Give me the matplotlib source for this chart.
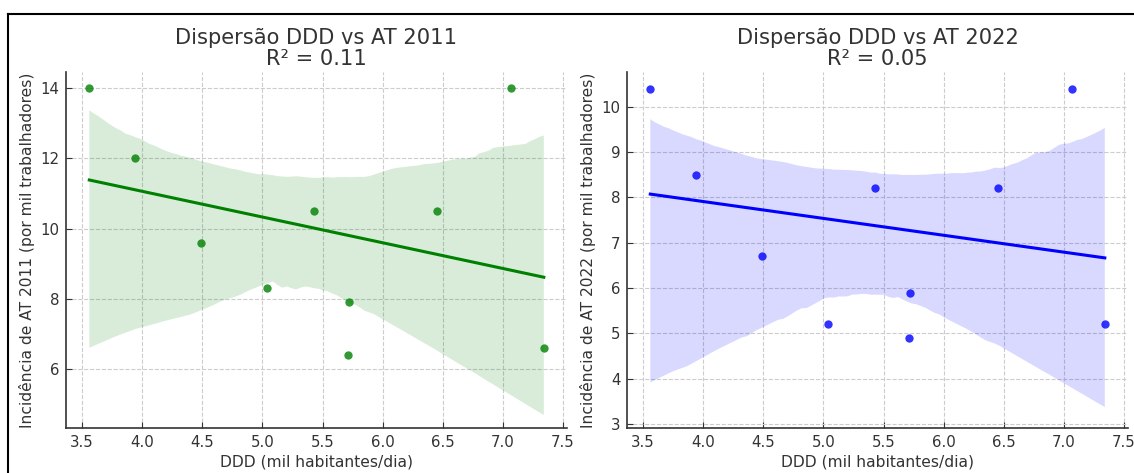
import numpy as np
import matplotlib
matplotlib.use("Agg")
import matplotlib.pyplot as plt
from matplotlib.lines import Line2D
import seaborn as sns

# DDD consumption and work accident incidence per municipality
ddd = [3.56, 3.94, 4.49, 5.04, 5.43, 5.71, 5.72, 6.45, 7.07, 7.34]
at_2011 = [14.0, 12.0, 9.6, 8.3, 10.5, 6.4, 7.9, 10.5, 14.0, 6.6]
at_2022 = [10.4, 8.5, 6.7, 5.2, 8.2, 4.9, 5.9, 8.2, 10.4, 5.2]

# year, values, colour, bootstrap seed, y limits
panels = [
    ("2011", at_2011, "green", 57, (4.32, 14.46)),
    ("2022", at_2022, "blue", 136, (2.91, 10.77)),
]

plt.rcParams.update({
    "font.family": "DejaVu Sans",
    "text.color": "#333333",
    "axes.labelcolor": "#333333",
    "xtick.color": "#333333",
    "ytick.color": "#333333",
})

fig = plt.figure(figsize=(11.34, 4.73), dpi=100)
ax_left = fig.add_axes([0.0586, 0.095, 0.4411, 0.753])
ax_right = fig.add_axes([0.5533, 0.095, 0.4411, 0.753])

for ax, (year, at, col, seed, ylim) in zip([ax_left, ax_right], panels):
    x = np.array(ddd)
    y = np.array(at)
    r2 = np.corrcoef(x, y)[0, 1] ** 2
    sns.regplot(x=x, y=y, ax=ax, color=col, ci=95, seed=seed,
                scatter_kws={"s": 36, "linewidths": 0, "zorder": 3},
                line_kws={"lw": 2.2})
    ax.set_title(f"Dispersão DDD vs AT {year}\nR² = {r2:.2f}",
                 fontsize=15.1, color="#333333", linespacing=1.05, pad=5)
    ax.set_xlabel("DDD (mil habitantes/dia)", fontsize=11.2, labelpad=3)
    ax.set_ylabel(f"Incidência de AT {year} (por mil trabalhadores)", fontsize=11.2)
    ax.set_xticks([3.5, 4.0, 4.5, 5.0, 5.5, 6.0, 6.5, 7.0, 7.5])
    ax.set_xlim(3.37, 7.53)
    ax.set_ylim(*ylim)
    ax.tick_params(direction="in", length=4, labelsize=10.8, pad=5)
    ax.grid(True, linestyle="--", color="#cccccc", linewidth=0.8)
    ax.set_axisbelow(True)
    for side in ["top", "right"]:
        ax.spines[side].set_visible(False)
    for side in ["left", "bottom"]:
        ax.spines[side].set_color("#333333")
        ax.spines[side].set_linewidth(1.2)

# thin frame around the top and left of the figure
fig.add_artist(Line2D([8 / 1134, 1.0], [1 - 14 / 473, 1 - 14 / 473],
                      transform=fig.transFigure, color="black", lw=1.5))
fig.add_artist(Line2D([8 / 1134, 8 / 1134], [0.0, 1 - 14 / 473],
                      transform=fig.transFigure, color="black", lw=1.5))

fig.savefig("out.png", dpi=100)
